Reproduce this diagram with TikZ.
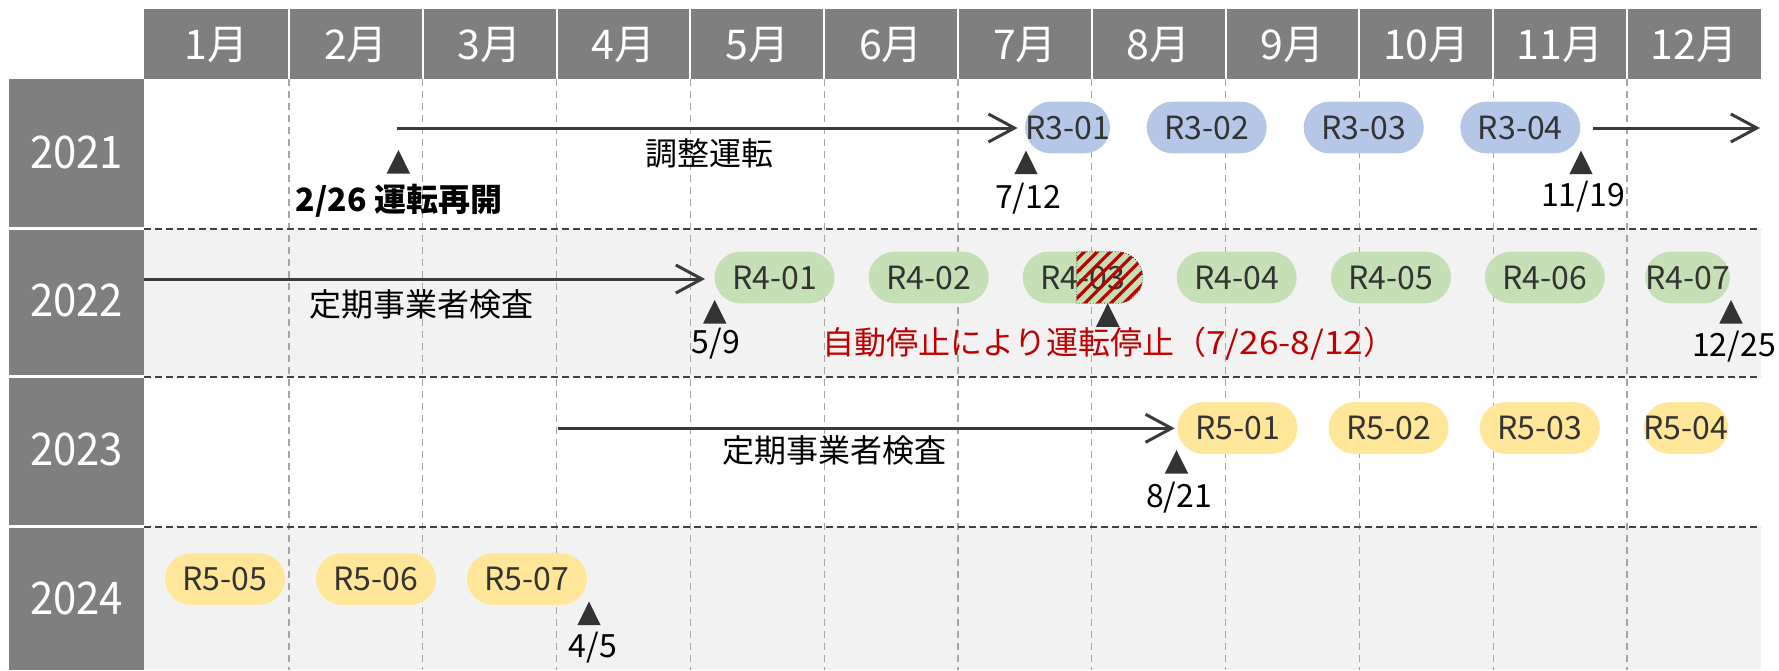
\documentclass[tikz,border=0pt]{standalone}
\usepackage{fontspec}
\setmainfont{Noto Sans CJK JP}
\usetikzlibrary{arrows.meta}
\definecolor{hdr}{HTML}{7F7F7F}
\definecolor{rowbg}{HTML}{F2F2F2}
\definecolor{pblue}{HTML}{B4C7E7}
\definecolor{pgreen}{HTML}{C5E0B4}
\definecolor{pyellow}{HTML}{FFE699}
\definecolor{ink}{HTML}{333333}
\definecolor{arrc}{HTML}{3A3A3A}
\definecolor{stopred}{HTML}{C00000}
\definecolor{vgrid}{HTML}{A6A6A6}
\definecolor{hgrid}{HTML}{404040}
\newcommand\bodyf{\fontsize{16}{19}\selectfont}
\newcommand\monf{\fontsize{20.5}{24}\selectfont}
\newcommand\yrf{\fontsize{22.5}{26}\selectfont}
\begin{document}
\begin{tikzpicture}[x=0.5pt,y=-0.5pt,
  lbl/.style={inner sep=0pt, text height=11.7pt, text depth=0pt, font=\bodyf},
  pill/.style={lbl, rectangle, rounded corners=12.9pt, minimum height=25.8pt, minimum width=60pt, text=ink},
  arr/.style={draw=arrc, line width=1.5pt, -{Straight Barb[length=13pt,width=14pt]}},
  vdash/.style={vgrid, line width=0.65pt, dash pattern=on 3.5pt off 2.5pt},
  hdash/.style={hgrid, line width=1pt, dash pattern=on 3.5pt off 2pt},
  mon/.style={inner sep=0pt, text=white, font=\monf, text height=15pt, text depth=0pt},
  yr/.style={inner sep=0pt, text=white, font=\yrf, text height=16.4pt, text depth=0pt},
  tmark/.pic={\fill[ink] (-11.7,23.5) -- (0,0) -- (11.7,23.5) -- cycle;}
]
\useasboundingbox (0,0) rectangle (1779,670);
% header and year column
\fill[hdr] (144,9) rectangle (1761,79);
\fill[hdr] (9,79) rectangle (144,226.5);
\fill[hdr] (9,229.5) rectangle (144,375);
\fill[hdr] (9,378) rectangle (144,524.5);
\fill[hdr] (9,527.5) rectangle (144,670);
% row backgrounds
\fill[rowbg] (144,229) rectangle (1761,377);
\fill[rowbg] (144,527) rectangle (1761,670);
% grid lines
\foreach \k in {0,...,10}{
  \draw[white, line width=1pt] ({289+133.8*\k},9) -- ({289+133.8*\k},79);
  \draw[vdash] ({289+133.8*\k},79) -- ({289+133.8*\k},670);
}
\foreach \yy in {229,377,527}{
  \draw[hdash] (144,\yy) -- (1761,\yy);
}
% month labels
\node[mon] (m1) at (216.5,44) {1月};
\foreach \m in {2,...,12}{
  \node[mon] (m\m) at ({289+133.8*(\m-2)+66.9},44) {\m{}月};
}
% year labels
\node[yr] (y2021) at (76.5,151.7) {\scalebox{0.93}[1]{2021}};
\node[yr] (y2022) at (76.5,300) {\scalebox{0.93}[1]{2022}};
\node[yr] (y2023) at (76.5,449) {\scalebox{0.93}[1]{2023}};
\node[yr] (y2024) at (76.5,598) {\scalebox{0.93}[1]{2024}};
% pills 2021
\node[pill, fill=pblue, minimum width=42.5pt] (p301) at (1067.5,127.5) {R3-01};
\node[pill, fill=pblue] (p302) at (1206.7,127.5) {R3-02};
\node[pill, fill=pblue] (p303) at (1363.7,127.5) {R3-03};
\node[pill, fill=pblue] (p304) at (1520.3,127.5) {R3-04};
% pills 2022
\node[pill, fill=pgreen] (p401) at (774.6,277.5) {R4-01};
\node[pill, fill=pgreen] (p402) at (928.6,277.5) {R4-02};
\node[pill, fill=pgreen] (p403) at (1082.7,277.5) {R4-03};
\node[pill, fill=pgreen] (p404) at (1236.7,277.5) {R4-04};
\node[pill, fill=pgreen] (p405) at (1391,277.5) {R4-05};
\node[pill, fill=pgreen] (p406) at (1544.8,277.5) {R4-06};
\node[pill, fill=pgreen, minimum width=41.75pt] (p407) at (1687.5,277.5) {R4-07};
% pills 2023
\node[pill, fill=pyellow] (p501) at (1237.5,428) {R5-01};
\node[pill, fill=pyellow] (p502) at (1388.5,428) {R5-02};
\node[pill, fill=pyellow] (p503) at (1539.8,428) {R5-03};
\node[pill, fill=pyellow, minimum width=41pt] (p504) at (1686,428) {R5-04};
% pills 2024
\node[pill, fill=pyellow] (p505) at (225,579) {R5-05};
\node[pill, fill=pyellow] (p506) at (376,579) {R5-06};
\node[pill, fill=pyellow] (p507) at (527,579) {R5-07};
% hatched stop period on R4-03
\begin{scope}
  \clip (1076.7,303.3) -- (1076.7,251.7) -- (1116.9,251.7)
     -- plot[domain=90:-90, samples=40] ({1116.9+25.8*cos(\x)},{277.5-25.8*sin(\x)}) -- cycle;
  \foreach \c in {1310,1323,...,1480}{
    \draw[stopred, line width=1.6pt] ({\c-320},320) -- ({\c-240},240);
  }
\end{scope}
\draw[ink, line width=0.4pt, densely dotted] (1076.7,303.3) -- (1076.7,251.7) -- (1116.9,251.7)
     -- plot[domain=90:-90, samples=40] ({1116.9+25.8*cos(\x)},{277.5-25.8*sin(\x)}) -- cycle;
% arrows
\coordinate (a1s) at (397,128);
\coordinate (a1e) at (1760,128);
\coordinate (a2s) at (144,279);
\coordinate (a3s) at (558,428.3);
\draw[arr, shorten >=3.5pt] (a1s) -- (p301.west |- a1s);
\draw[arr] ([xshift=6pt]p304.east |- a1e) -- (a1e);
\draw[arr, shorten >=4.6pt] (a2s) -- (p401.west |- a2s);
\draw[arr, shorten >=1.2pt] (a3s) -- (p501.west |- a3s);
% arrow labels
\node[lbl] (l1) at (709,154) {調整運転};
\node[lbl] (l2) at (421,305) {定期事業者検査};
\node[lbl] (l3) at (834.5,451) {定期事業者検査};
% markers
\pic at (398.4,150) {tmark};
\pic at (1026,150.7) {tmark};
\pic at (1581,150.7) {tmark};
\pic at (714.7,300) {tmark};
\pic at (1107.7,303.3) {tmark};
\pic at (1731,300) {tmark};
\pic at (1176.5,450) {tmark};
\pic at (589,601.7) {tmark};
% date labels
\node[lbl, font=\bodyf\bfseries] (d1) at (399,200) {2/26 運転再開};
\node[lbl] (d2) at (1028,196.5) {7/12};
\node[lbl] (d3) at (1583,195) {11/19};
\node[lbl] (d4) at (716,342) {5/9};
\node[lbl, text=stopred] (d5) at (1109,343) {自動停止により運転停止（\scalebox{1.1}[1]{7/26-8/12}）};
\node[lbl] (d6) at (1734,345) {12/25};
\node[lbl] (d7) at (1179,495.5) {8/21};
\node[lbl] (d8) at (593,646) {4/5};
\end{tikzpicture}
\end{document}
